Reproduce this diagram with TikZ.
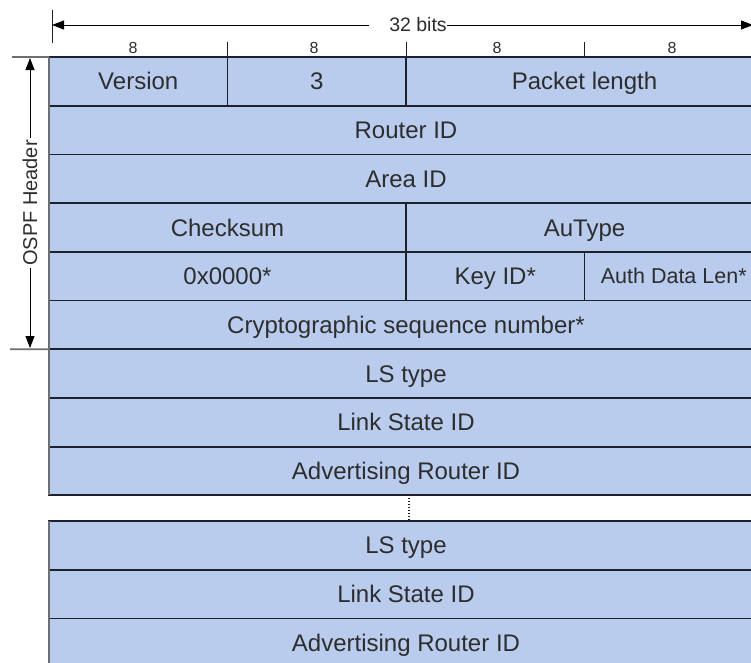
\documentclass[tikz,border=0pt]{standalone}
\usepackage{fontspec}
\setmainfont{Liberation Sans}
\usetikzlibrary{arrows.meta}
\definecolor{cellblue}{RGB}{185,204,238}
\definecolor{linedark}{RGB}{30,32,45}
\definecolor{txt}{RGB}{45,45,45}
\definecolor{graylin}{RGB}{110,110,110}
\begin{document}
\begin{tikzpicture}[x=1pt,y=-1pt,
  field/.style={draw=linedark, line width=1.8pt, fill=cellblue, inner sep=0pt, outer sep=0pt,
    anchor=north west, minimum height=48.7pt, text=txt,
    text height=17.2pt, text depth=0pt,
    font=\fontsize{24}{24}\selectfont},
  smallfield/.style={text height=15.4pt, font=\fontsize{21.5}{21.5}\selectfont},
  wone/.style={minimum width=178.5pt},
  wtwo/.style={minimum width=357pt},
  wfour/.style={minimum width=714pt},
  lbl/.style={text=txt, font=\fontsize{16}{16}\selectfont, inner sep=1pt},
  tipline/.style={-{Triangle[length=12pt,width=9pt]}, line width=0.9pt, draw=black},
  thin/.style={line width=1pt, draw=linedark},
  grayline/.style={line width=1.6pt, draw=graylin}]
\useasboundingbox (0,0) rectangle (751,662);
\fill[white] (0,0) rectangle (751,662);

% header rows
\node[field,wone] (v) at (49,57) {Version};
\node[field,wone] (three) at (227.5,57) {3};
\node[field,wtwo] (plen) at (406,57) {Packet length};
\node[field,wfour] (rid) at (49,105.7) {Router ID};
\node[field,wfour] (aid) at (49,154.4) {Area ID};
\node[field,wtwo] (cks) at (49,203.1) {Checksum};
\node[field,wtwo] (aut) at (406,203.1) {AuType};
\node[field,wtwo] (zero) at (49,251.8) {0x0000*};
\node[field,wone] (kid) at (406,251.8) {Key ID*};
\node[field,wone,smallfield] (adl) at (584.5,251.8) {Auth Data Len*};
\node[field,wfour] (seq) at (49,300.5) {Cryptographic sequence number*};
% first LSA header
\node[field,wfour] (ls1) at (49,349.2) {LS type};
\node[field,wfour] (lsid1) at (49,397.9) {Link State ID};
\node[field,wfour] (adv1) at (49,446.6) {Advertising Router ID};
% last LSA header
\node[field,wfour] (ls2) at (49,521) {LS type};
\node[field,wfour] (lsid2) at (49,569.7) {Link State ID};
\node[field,wfour] (adv2) at (49,618.4) {Advertising Router ID};

% left borders in gray
\draw[grayline] (v.north west) -- (adv1.south west);
\draw[grayline] (ls2.north west) -- (adv2.south west);

% dotted continuation
\draw[thin, dotted, line width=1.2pt] ([xshift=3pt]adv1.south) -- ([xshift=3pt]ls2.north);

% top width arrow
\coordinate (lt1) at (52,10);
\coordinate (lt2) at (52,43);
\draw[thin] (lt1) -- (lt2);
\coordinate (la) at (52,25);
\coordinate (ra) at (753,25);
\node[text=txt, font=\fontsize{19.5}{19.5}\selectfont, inner sep=0pt] (bits) at (418,25) {32 bits};
\draw[tipline] ([xshift=-20pt]bits.west) -- (la);
\draw[tipline] (bits.east) -- (ra);

% byte ticks
\coordinate (t1) at (227.5,42);
\coordinate (t1b) at (227.5,57);
\coordinate (t2) at (406,42);
\coordinate (t2b) at (406,57);
\coordinate (t3) at (584.5,42);
\coordinate (t3b) at (584.5,57);
\draw[thin] (t1) -- (t1b);
\draw[thin] (t2) -- (t2b);
\draw[thin] (t3) -- (t3b);
\node[lbl] (b1) at (133,48) {8};
\node[lbl] (b2) at (314,48) {8};
\node[lbl] (b3) at (497,48) {8};
\node[lbl] (b4) at (672,48) {8};

% OSPF header span
\coordinate (hl1) at (12,57);
\coordinate (hl2) at (10,349.2);
\draw[grayline] (hl1) -- (v.north west);
\draw[grayline] (hl2) -- (seq.south west);
\node[text=txt, font=\fontsize{20}{20}\selectfont, inner sep=2pt, rotate=90] (osp) at (30,203) {OSPF Header};
\coordinate (va1) at (30,58);
\coordinate (va2) at (30,348);
\draw[tipline] (osp.east) -- (va1);
\draw[tipline] (osp.west) -- (va2);
\end{tikzpicture}
\end{document}
